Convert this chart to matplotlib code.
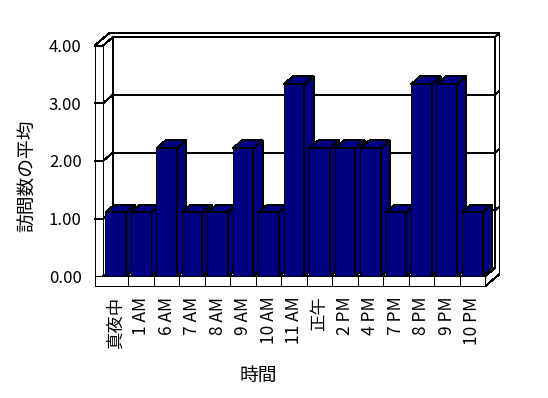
import matplotlib
matplotlib.use('Agg')
import matplotlib.pyplot as plt
from matplotlib.patches import Polygon

categories = ['真夜中', '1 AM', '6 AM', '7 AM', '8 AM', '9 AM', '10 AM', '11 AM',
              '正午', '2 PM', '4 PM', '7 PM', '8 PM', '9 PM', '10 PM']
values = [1.11, 1.11, 2.22, 1.11, 1.11, 2.22, 1.11, 3.33,
          2.22, 2.22, 2.22, 1.11, 3.33, 3.33, 1.11]
yticks = [0, 1, 2, 3, 4]
ytick_labels = ['0.00', '1.00', '2.00', '3.00', '4.00']
xlabel = '時間'
ylabel = '訪問数の平均'

plt.rcParams['font.family'] = ['Noto Sans CJK JP', 'DejaVu Sans']

W_PX, H_PX = 548, 398
fig = plt.figure(figsize=(W_PX / 100, H_PX / 100), dpi=100)
fig.patch.set_facecolor('white')

# pixel geometry of the front plane
ppc = 25.53      # pixels per category
ppv = 58.0       # pixels per value unit
x0px, y0px = 102.5, 277.0
N = len(categories)
ymax = 4.0
OX = 10.0 / ppc   # depth offset (per unit depth) in category units
OY = 8.5 / ppv    # depth offset in value units
T = 8.3 / ppc     # left wall thickness
TF = 10.0 / ppv   # floor thickness
TB = 0.5          # back wall thickness (depth units)
BW = 0.81         # bar width
BD = 0.93         # bar depth

xlo, xhi = -T, N + (1 + TB) * OX
ylo, yhi = -TF, ymax + (1 + TB) * OY
left_px = x0px + xlo * ppc
right_px = x0px + xhi * ppc
top_px = y0px - yhi * ppv
bottom_px = y0px - ylo * ppv

ax = fig.add_axes([left_px / W_PX, 1 - bottom_px / H_PX,
                   (right_px - left_px) / W_PX, (bottom_px - top_px) / H_PX])
ax.set_xlim(xlo - 0.02, xhi + 0.02)
ax.set_ylim(ylo - 0.01, yhi + 0.01)
for s in ax.spines.values():
    s.set_visible(False)
ax.patch.set_alpha(0)


def P(x, y, z):
    return (x + z * OX, y + z * OY)


LW = 0.72
EC = 'black'


def face(pts, fc='white', z=1.0):
    ax.add_patch(Polygon(pts, closed=True, facecolor=fc, edgecolor=EC,
                         linewidth=LW, joinstyle='miter', zorder=z,
                         antialiased=False))


# back wall (front surface)
face([P(0, 0, 1), P(N, 0, 1), P(N, ymax, 1), P(0, ymax, 1)])
# top of walls (L-shape)
face([P(-T, ymax, 0), P(0, ymax, 0), P(0, ymax, 1), P(N, ymax, 1),
      P(N, ymax, 1 + TB), P(-T, ymax, 1 + TB)])
# right side of back wall + floor (L-shape)
face([P(N, -TF, 0), P(N, 0, 0), P(N, 0, 1), P(N, ymax, 1),
      P(N, ymax, 1 + TB), P(N, -TF, 1 + TB)])
# left wall inner face
face([P(0, 0, 0), P(0, 0, 1), P(0, ymax, 1), P(0, ymax, 0)])
# left wall front face
face([P(-T, -TF, 0), P(0, -TF, 0), P(0, ymax, 0), P(-T, ymax, 0)])
# floor top
face([P(0, 0, 0), P(N, 0, 0), P(N, 0, 1), P(0, 0, 1)])
# floor front face
face([P(-T, -TF, 0), P(N, -TF, 0), P(N, 0, 0), P(-T, 0, 0)])

# gridlines wrapping the walls
for v in yticks[1:-1]:
    pts = [P(-T, v, 0), P(0, v, 0), P(0, v, 1), P(N, v, 1), P(N, v, 1 + TB)]
    ax.plot([p[0] for p in pts], [p[1] for p in pts], color=EC, lw=LW,
            zorder=1.5, solid_joinstyle='miter', antialiased=False)

# category separators on floor front
for i in range(1, N):
    ax.plot([i, i], [-TF, 0], color=EC, lw=LW, zorder=1.5, antialiased=False)

# bars
navy = '#000080'
xs = [i + 0.5 for i in range(N)]
bars = ax.bar(xs, values, width=BW, color=navy, edgecolor=EC, linewidth=LW)
for i, (rect, x, v) in enumerate(zip(bars, xs, values)):
    zo = 3 + i * 0.01
    rect.set_zorder(zo)
    rect.set_antialiased(False)
    xl, xr = x - BW / 2, x + BW / 2
    face([P(xl, v, 0), P(xr, v, 0), P(xr, v, BD), P(xl, v, BD)], fc=navy, z=zo)
    face([P(xr, 0, 0), P(xr, 0, BD), P(xr, v, BD), P(xr, v, 0)], fc=navy, z=zo)

# ticks
ax.set_yticks(yticks)
ax.set_yticklabels(ytick_labels, fontsize=12)
ax.set_xticks(xs)
ax.set_xticklabels(categories, rotation=90, fontsize=12.5)
ax.tick_params(axis='y', length=0, pad=9)
ax.tick_params(axis='x', length=0, pad=7)

fig.text(258 / W_PX, 1 - 375 / H_PX, xlabel, ha='center', va='center', fontsize=13.5)
fig.text(27.5 / W_PX, 1 - 175.5 / H_PX, ylabel, ha='center', va='center',
         rotation=90, fontsize=13.5)

fig.savefig('out.png', dpi=100, facecolor='white')
